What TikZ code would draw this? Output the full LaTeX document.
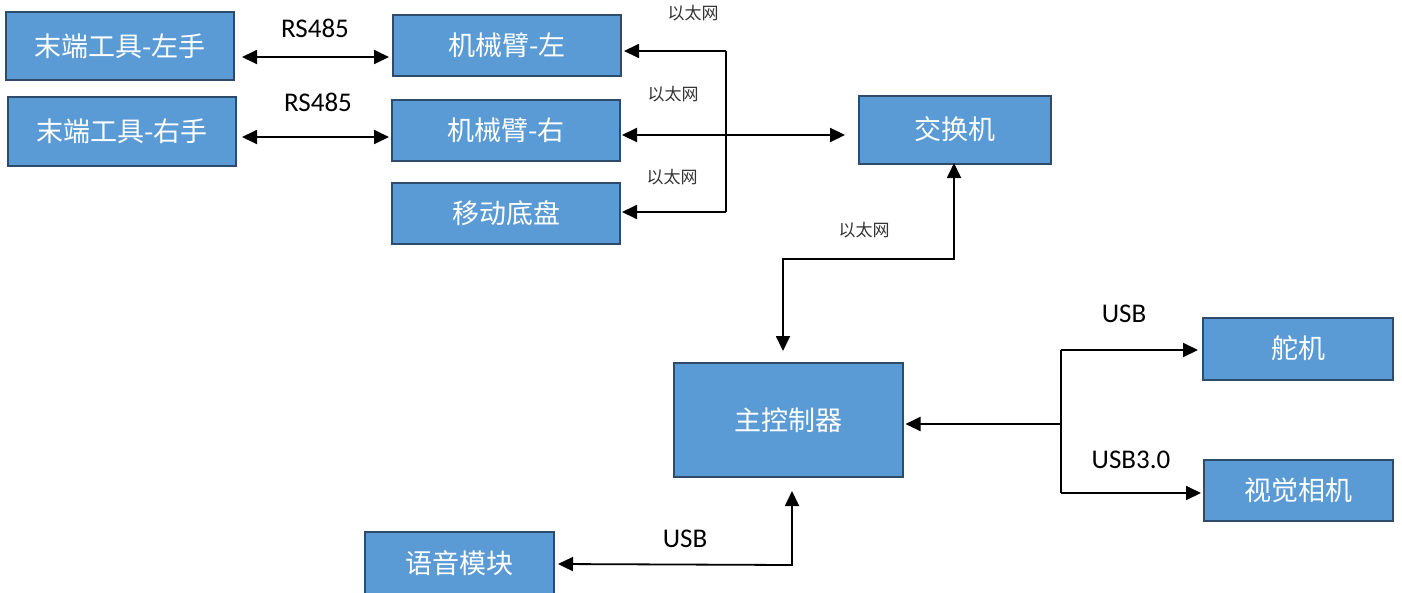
\documentclass[tikz,border=0pt]{standalone}
\usepackage{fontspec}
\newfontfamily\cjk{Noto Sans CJK SC}
\newfontfamily\lab{Carlito}
\usetikzlibrary{arrows.meta,calc}
\definecolor{boxblue}{HTML}{5B9BD5}
\definecolor{boxline}{HTML}{2F4B6B}
\tikzset{
  box/.style={draw=boxline, fill=boxblue, line width=2pt, text=white, inner sep=0pt,
    font=\cjk\fontsize{27}{30}\selectfont},
  link/.style={line width=1.8pt, black},
  arr/.style={link, -{Triangle[length=15pt,width=14pt]}},
  darr/.style={link, {Triangle[length=15pt,width=14pt]}-{Triangle[length=15pt,width=14pt]}},
  lbl/.style={font=\lab\fontsize{27}{30}\selectfont, inner sep=0pt},
  eth/.style={font=\cjk\fontsize{17}{19}\selectfont, text=black!80, inner sep=0pt},
}
\begin{document}
\begin{tikzpicture}[x=1pt,y=-1pt]
\useasboundingbox (0,0) rectangle (1402,592);
% boxes
\node[box, minimum width=228pt, minimum height=68pt] (tl) at (120,46) {末端工具-左手};
\node[box, minimum width=228pt, minimum height=69pt] (tr) at (122,131.5) {末端工具-右手};
\node[box, minimum width=228pt, minimum height=61pt] (al) at (507,45.5) {机械臂-左};
\node[box, minimum width=228pt, minimum height=61pt] (ar) at (506,130.5) {机械臂-右};
\node[box, minimum width=228pt, minimum height=61pt] (base) at (506,213.5) {移动底盘};
\node[box, minimum width=192pt, minimum height=68pt] (sw) at (955,129.5) {交换机};
\node[box, minimum width=229pt, minimum height=114pt] (mc) at (788,420) {主控制器};
\node[box, minimum width=190pt, minimum height=62pt] (servo) at (1298,348.5) {舵机};
\node[box, minimum width=189pt, minimum height=61pt] (cam) at (1298.5,490.5) {视觉相机};
\node[box, minimum width=189pt, minimum height=62pt] (voice) at (459.5,563) {语音模块};
% RS485 links
\draw[darr] ($(tl.east|-0,57)+(7,0)$) -- ($(al.west|-0,57)+(-3,0)$);
\draw[darr] ($(tr.east|-0,137)+(5,0)$) -- ($(ar.west|-0,137)+(-2,0)$);
\node[lbl] (l1) at (315,28) {RS485};
\node[lbl] (l2) at (318,102) {RS485};
% ethernet bus
\coordinate (busT) at (726,51);
\coordinate (busB) at (726,212);
\draw[link] (busT) -- (busB);
\draw[arr] (busT) -- ($(al.east|-busT)+(2,0)$);
\draw[arr] (busB) -- ($(base.east|-busB)+(1,0)$);
\draw[darr, line width=2.2pt] ($(ar.east|-0,135)+(1,0)$) -- ($(sw.west|-0,135)+(-13,0)$);
\node[eth] (e1) at (693,13) {以太网};
\node[eth] (e2) at (673,94) {以太网};
\node[eth] (e3) at (672,177) {以太网};
\node[eth] (e4) at (864,230) {以太网};
% switch to main controller
\draw[darr] ($(mc.north|-0,351)+(-5,0)$) |- (954,259) -- ($(sw.south)+(-1,-1.5)$);
% main controller to servo / camera
\coordinate (hub) at (1061,424);
\coordinate (hubT) at (1061,350);
\coordinate (hubB) at (1061,493);
\draw[link] (hubT) -- (hubB);
\draw[arr, line width=2.2pt] (hub) -- ($(mc.east|-hub)+(2,0)$);
\draw[arr] (hubT) -- ($(servo.west|-hubT)+(-4,0)$);
\draw[arr] (hubB) -- ($(cam.west|-hubB)+(-2,0)$);
\node[lbl] (u1) at (1124,314) {USB};
\node[lbl] (u2) at (1131,460) {USB3.0};
% voice
\draw[darr] ($(voice.east|-0,564)+(3,0)$) -- (792,565) -- ($(mc.south|-0,491)+(4,0)$);
\node[lbl] (u3) at (685,539) {USB};
\end{tikzpicture}
\end{document}
